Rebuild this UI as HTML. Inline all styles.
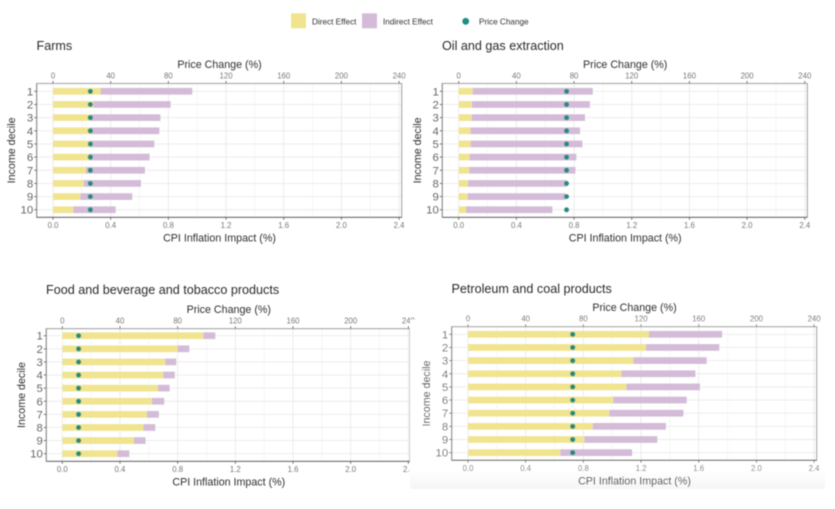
<!DOCTYPE html>
<html>
<head>
<meta charset="utf-8">
<style>
html,body{margin:0;padding:0;background:#fff;}
svg{display:block;font-family:"Liberation Sans",sans-serif;}
</style>
</head>
<body>
<svg id="chart" xmlns="http://www.w3.org/2000/svg" width="835" height="509" viewBox="0 0 835 509">
  <defs>
    <linearGradient id="fade" x1="0" y1="0" x2="0" y2="1">
      <stop offset="0" stop-color="#ffffff"/>
      <stop offset="1" stop-color="#f6f6f6"/>
    </linearGradient>
    <filter id="soft" x="-2%" y="-2%" width="104%" height="104%"><feGaussianBlur stdDeviation="0.45"/></filter>
  </defs>
  <g id="root" filter="url(#soft)"></g>
</svg>
<script>
const deciles = ["1","2","3","4","5","6","7","8","9","10"];
const impactTicks = [0, 0.4, 0.8, 1.2, 1.6, 2.0, 2.4];
const priceTicks = [0, 40, 80, 120, 160, 200, 240];
const minorTicks = [0.2, 0.6, 1.0, 1.4, 1.8, 2.2];

const farmsDirect = [0.33,0.28,0.265,0.26,0.255,0.25,0.227,0.213,0.19,0.141];
const farmsIndirect = [0.636,0.536,0.48,0.478,0.448,0.42,0.411,0.397,0.36,0.294];
const farmsPrice = [25.9,25.9,25.9,25.9,25.9,25.9,25.9,25.9,25.9,25.9];

const oilDirect = [0.097,0.092,0.09,0.081,0.083,0.076,0.072,0.065,0.062,0.051];
const oilIndirect = [0.833,0.818,0.786,0.761,0.775,0.74,0.738,0.685,0.678,0.599];
const oilPrice = [74.8,74.8,74.8,74.8,74.8,74.8,74.8,74.8,74.8,74.8];

const foodDirect = [0.978,0.80,0.714,0.70,0.664,0.622,0.587,0.562,0.497,0.381];
const foodIndirect = [0.083,0.081,0.076,0.08,0.081,0.085,0.083,0.083,0.081,0.084];
const foodPrice = [11.3,11.3,11.3,11.3,11.3,11.3,11.3,11.3,11.3,11.3];

const petroleumDirect = [1.255,1.235,1.147,1.064,1.098,1.008,0.98,0.865,0.807,0.64];
const petroleumIndirect = [0.507,0.508,0.508,0.513,0.511,0.509,0.514,0.508,0.506,0.498];
const petroleumPrice = [72.6,72.6,72.6,72.6,72.6,72.6,72.6,72.6,72.6,72.6];

const NS = "http://www.w3.org/2000/svg";
const root = document.getElementById("root");
const YEL = "#f1e48e", PUR = "#d4bcd9", TEAL = "#1f8f80";

function node(parent, tag, attrs, txt) {
  const el = document.createElementNS(NS, tag);
  for (const k in attrs) el.setAttribute(k, attrs[k]);
  if (txt !== undefined) el.textContent = txt;
  parent.appendChild(el);
  return el;
}

function drawPanel(opt) {
  const g = node(root, "g", {});
  
  

  const sx = v => opt.x0 + v * 144.2;
  const sp = v => opt.x0 + v / 100 * 144.2;
  const sy = i => opt.y1 + i * opt.step;

  const title = node(g, "text", {x: opt.titleX, y: opt.titleY, "font-size": 12.6, fill: "#2a2a2a"}, opt.title);
  
  

  const bg = node(g, "rect", {x: opt.left, y: opt.top, width: opt.right - opt.left, height: opt.bottom - opt.top, fill: "#fff"});
  
  

  minorTicks.forEach(t => {
    const l = node(g, "line", {x1: sx(t), x2: sx(t), y1: opt.top, y2: opt.bottom, stroke: "#f3f3f3", "stroke-width": 0.7});
    
    
  });
  impactTicks.forEach(t => {
    const l = node(g, "line", {x1: sx(t), x2: sx(t), y1: opt.top, y2: opt.bottom, stroke: "#eaeaea", "stroke-width": 0.9});
    
    
  });
  deciles.forEach((d, i) => {
    const l = node(g, "line", {x1: opt.left, x2: opt.right, y1: sy(i), y2: sy(i), stroke: "#eaeaea", "stroke-width": 0.9});
    
    
  });

  deciles.forEach((d, i) => {
    const a = node(g, "rect", {x: sx(0), y: sy(i) - 3.4, width: sx(opt.direct[i]) - sx(0), height: 6.8, fill: YEL});
    
    
    const b = node(g, "rect", {x: sx(opt.direct[i]), y: sy(i) - 3.4, width: sx(opt.direct[i] + opt.indirect[i]) - sx(opt.direct[i]), height: 6.8, fill: PUR});
    
    
  });
  deciles.forEach((d, i) => {
    const c = node(g, "circle", {cx: sp(opt.price[i]), cy: sy(i), r: 2.6, fill: TEAL});
    
    
  });

  const border = node(g, "rect", {x: opt.left, y: opt.top, width: opt.right - opt.left, height: opt.bottom - opt.top, fill: "none", stroke: "#a2a2a2", "stroke-width": 1.1});
  
  
  const axisB = node(g, "line", {x1: opt.left, x2: opt.right, y1: opt.bottom, y2: opt.bottom, stroke: "#666", "stroke-width": 1});
  
  
  const axisL = node(g, "line", {x1: opt.left, x2: opt.left, y1: opt.top, y2: opt.bottom, stroke: "#8a8a8a", "stroke-width": 1});
  
  

  impactTicks.forEach(t => {
    const m = node(g, "line", {x1: sx(t), x2: sx(t), y1: opt.bottom, y2: opt.bottom + 2.5, stroke: "#555", "stroke-width": 0.8});
    
    
    const s = node(g, "text", {x: sx(t), y: opt.bottom + 10.5, "font-size": 7.8, fill: "#777", "text-anchor": "middle"}, t.toFixed(1));
    
    
  });
  priceTicks.forEach(t => {
    const m = node(g, "line", {x1: sp(t), x2: sp(t), y1: opt.top, y2: opt.top - 2.5, stroke: "#555", "stroke-width": 0.8});
    
    
    const s = node(g, "text", {x: sp(t), y: opt.top - 5, "font-size": 7.8, fill: "#777", "text-anchor": "middle"}, String(t));
    
    
  });
  deciles.forEach((d, i) => {
    const m = node(g, "line", {x1: opt.left - 2.5, x2: opt.left, y1: sy(i), y2: sy(i), stroke: "#555", "stroke-width": 0.8});
    
    
    const s = node(g, "text", {x: opt.left - 3.5, y: sy(i) + 4, "font-size": 11.4, fill: "#666", "text-anchor": "end"}, d);
    
    
  });

  const topTitle = node(g, "text", {x: sx(0) + 166.5, y: opt.top - 15.5, "font-size": 10.7, fill: "#2f2f2f", "text-anchor": "middle"}, "Price Change (%)");
  
  
  const botTitle = node(g, "text", {x: sx(0) + 166.5, y: opt.bottom + 24, "font-size": 10.7, fill: "#2f2f2f", "text-anchor": "middle"}, "CPI Inflation Impact (%)");
  
  
  const yx = opt.left - 21.5, yy = (opt.top + opt.bottom) / 2;
  const yTitle = node(g, "text", {x: yx, y: yy, "font-size": 10.7, fill: "#2f2f2f", "text-anchor": "middle", transform: "rotate(-90 " + yx + " " + yy + ")"}, "Income decile");
  
  
}

drawPanel({slug: "farms", title: "Farms", titleX: 36.5, titleY: 50, left: 36.7, right: 401.7, top: 83.5, bottom: 217.3, x0: 53, y1: 91.3, step: 13.16, direct: farmsDirect, indirect: farmsIndirect, price: farmsPrice});
drawPanel({slug: "oil-gas", title: "Oil and gas extraction", titleX: 442, titleY: 50, left: 442.3, right: 807.3, top: 83.5, bottom: 217.3, x0: 458.7, y1: 91.3, step: 13.16, direct: oilDirect, indirect: oilIndirect, price: oilPrice});
drawPanel({slug: "food", title: "Food and beverage and tobacco products", titleX: 46, titleY: 294, left: 46.3, right: 410, top: 328.7, bottom: 461.3, x0: 62.3, y1: 335.7, step: 13.11, direct: foodDirect, indirect: foodIndirect, price: foodPrice});

const cover = node(root, "rect", {x: 410, y: 320, width: 425, height: 150, fill: "#fff"});


const fade = node(root, "rect", {x: 410, y: 470, width: 415, height: 19, fill: "url(#fade)"});



drawPanel({slug: "petroleum", title: "Petroleum and coal products", titleX: 451.5, titleY: 293, left: 451.7, right: 816.7, top: 326.7, bottom: 460.3, x0: 468, y1: 334.3, step: 13.15, direct: petroleumDirect, indirect: petroleumIndirect, price: petroleumPrice});

const legend = node(root, "g", {});


const sw1 = node(legend, "rect", {x: 291, y: 13.3, width: 15, height: 15, fill: YEL});


const tx1 = node(legend, "text", {x: 312, y: 24.7, "font-size": 8.2, fill: "#333"}, "Direct Effect");


const sw2 = node(legend, "rect", {x: 362, y: 13.3, width: 15, height: 15, fill: PUR});


const tx2 = node(legend, "text", {x: 383, y: 24.7, "font-size": 8.2, fill: "#333"}, "Indirect Effect");


const sw3 = node(legend, "circle", {cx: 465.7, cy: 21.3, r: 3.4, fill: TEAL});


const tx3 = node(legend, "text", {x: 479, y: 24.7, "font-size": 8.2, fill: "#333"}, "Price Change");


</script>
</body>
</html>
